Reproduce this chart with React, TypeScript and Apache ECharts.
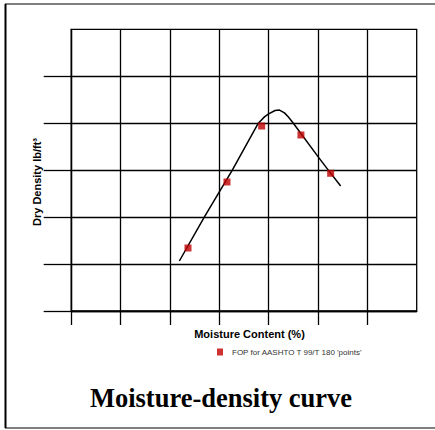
import React, { useEffect, useRef } from "react";
import * as echarts from "echarts";

// Measured points (moisture index, density index in grid units)
const pointX = [2.365, 3.155, 3.858, 4.654, 5.256];
const pointY = [1.342, 2.748, 3.94, 3.749, 2.933];

// Fitted curve
const curveX = [2.19, 2.695, 3.263, 3.79, 3.92, 4.0, 4.13, 4.22, 4.32, 4.4, 4.5, 5.0, 5.208, 5.459];
const curveY = [1.065, 2.0, 3.0, 4.0, 4.14, 4.2, 4.27, 4.28, 4.22, 4.13, 4.0, 3.287, 3.0, 2.662];

const xTicks = [0, 1, 2, 3, 4, 5, 6];
const yTicks = [0, 1, 2, 3, 4, 5];

const legendName = "FOP for AASHTO T 99/T 180 'points'";

export default function App() {
  const ref = useRef<HTMLDivElement>(null);
  useEffect(() => {
    if (!ref.current) return;
    const chart = echarts.init(ref.current, null, { renderer: "svg" });
    const lineStyle = { color: "#000", width: 1.3 };
    chart.setOption({
      animation: false,
      backgroundColor: "#fff",
      grid: {
        left: 71.3,
        top: 29.3,
        right: 18.3,
        bottom: 119,
        show: true,
        borderColor: "#000",
        borderWidth: 1.3,
        backgroundColor: "transparent",
      },
      xAxis: {
        type: "value",
        min: 0,
        max: 7,
        interval: 1,
        axisLine: { show: true, lineStyle },
        axisTick: { show: true, length: 14, lineStyle, customValues: xTicks },
        axisLabel: { show: false },
        splitLine: { show: true, lineStyle },
      },
      yAxis: {
        type: "value",
        min: 0,
        max: 6,
        interval: 1,
        axisLine: { show: true, lineStyle },
        axisTick: { show: true, length: 27.6, lineStyle, customValues: yTicks },
        axisLabel: { show: false },
        splitLine: { show: true, lineStyle },
      },
      legend: {
        left: 212,
        top: 343,
        icon: "rect",
        itemWidth: 6,
        itemHeight: 7,
        itemGap: 6,
        data: [legendName],
        textStyle: { fontSize: 8, color: "#333", fontFamily: "Liberation Sans, Arial, sans-serif", padding: [0, 0, 0, 4] },
      },
      series: [
        {
          type: "line",
          data: curveX.map((x, i) => [x, curveY[i]]),
          smooth: false,
          showSymbol: false,
          lineStyle: { color: "#000", width: 1.5, join: "round" },
          z: 3,
          silent: true,
        },
        {
          name: legendName,
          type: "scatter",
          data: pointX.map((x, i) => [x, pointY[i]]),
          symbol: "rect",
          symbolSize: 7,
          itemStyle: { color: "#c00000" },
          z: 4,
        },
      ],
      graphic: [
        { type: "line", shape: { x1: 5, y1: 4, x2: 435, y2: 4 }, style: { stroke: "#555", lineWidth: 1.5 } },
        { type: "line", shape: { x1: 5, y1: 428, x2: 435, y2: 428 }, style: { stroke: "#555", lineWidth: 1.5 } },
        { type: "line", shape: { x1: 5.5, y1: 4, x2: 5.5, y2: 428 }, style: { stroke: "#000", lineWidth: 2 } },
        {
          type: "text",
          x: 36.5,
          y: 182,
          rotation: Math.PI / 2,
          style: {
            text: "Dry Density lb/ft³",
            font: "bold 11px 'Liberation Sans', Arial, sans-serif",
            fill: "#000",
            align: "center",
            verticalAlign: "middle",
          },
        },
        {
          type: "text",
          x: 249.5,
          y: 333.5,
          style: {
            text: "Moisture Content (%)",
            font: "bold 11px 'Liberation Sans', Arial, sans-serif",
            fill: "#000",
            align: "center",
            verticalAlign: "middle",
          },
        },
        {
          type: "text",
          x: 221,
          y: 398,
          style: {
            text: "Moisture-density curve",
            font: "bold 26.5px 'Liberation Serif', 'Times New Roman', serif",
            fill: "#000",
            align: "center",
            verticalAlign: "middle",
          },
        },
      ],
    });
    return () => chart.dispose();
  }, []);
  return <div ref={ref} style={{ position: "fixed", left: 0, top: 0, width: 435, height: 430 }} />;
}
